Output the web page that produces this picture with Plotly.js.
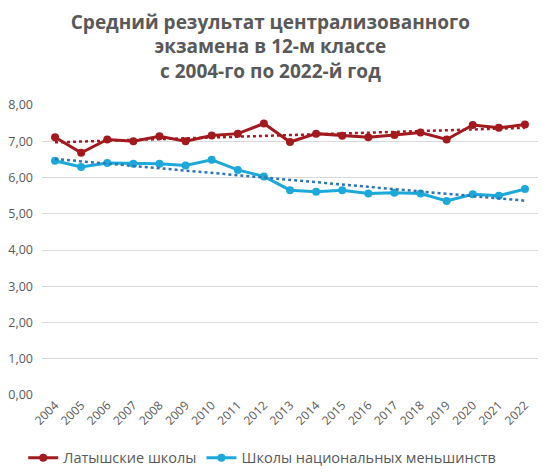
<!DOCTYPE html>
<html>
<head>
<meta charset="utf-8">
<script src="https://cdn.plot.ly/plotly-3.0.1.min.js"></script>
<style>html,body{margin:0;padding:0;background:#fff;}#chart{width:554px;height:476px;}</style>
</head>
<body>
<div id="chart"></div>
<script>
var years = ['2004','2005','2006','2007','2008','2009','2010','2011','2012','2013','2014','2015','2016','2017','2018','2019','2020','2021','2022'];
var latvianSchools = [7.11,6.68,7.05,7.00,7.14,7.00,7.16,7.21,7.49,6.98,7.21,7.15,7.11,7.17,7.24,7.05,7.45,7.37,7.46];
var minoritySchools = [6.46,6.29,6.40,6.38,6.38,6.33,6.49,6.21,6.03,5.65,5.61,5.65,5.56,5.58,5.56,5.35,5.54,5.50,5.68];
var trendYears = ['2004','2022'];
var latvianTrend = [6.97,7.37];
var minorityTrend = [6.51,5.36];
var yTicks = [0,1,2,3,4,5,6,7,8];

var blue = '#1CA9DA';
var redc = '#A31A1E';
var grey = '#595959';

var traces = [
  {x: years, y: latvianSchools, type: 'scatter', mode: 'lines+markers', name: 'Латышские школы',
   line: {color: redc, width: 3}, marker: {color: redc, size: 8}},
  {x: years, y: minoritySchools, type: 'scatter', mode: 'lines+markers', name: 'Школы национальных меньшинств',
   line: {color: blue, width: 3}, marker: {color: blue, size: 8}},
  {x: trendYears, y: latvianTrend, type: 'scatter', mode: 'lines', showlegend: false, hoverinfo: 'skip',
   line: {color: redc, width: 2.5, dash: 'dot'}},
  {x: trendYears, y: minorityTrend, type: 'scatter', mode: 'lines', showlegend: false, hoverinfo: 'skip',
   line: {color: '#2E75B6', width: 2.5, dash: 'dot'}}
];

var layout = {
  width: 554, height: 476,
  margin: {l: 42, r: 16, t: 105, b: 81},
  paper_bgcolor: '#fff', plot_bgcolor: '#fff',
  separators: ', ',
  font: {family: 'Open Sans, Noto Sans, sans-serif', color: grey, size: 12},
  title: {text: 'Средний результат централизованного<br>экзамена в 12-м классе<br>с 2004-го по 2022-й год',
          x: 0.488, xanchor: 'center', y: 0.94, yanchor: 'top',
          font: {family: 'Open Sans, sans-serif', size: 19, color: grey, weight: 'bold'}},
  xaxis: {type: 'category', range: [-0.5, 18.5], showgrid: false, zeroline: false, showline: false, automargin: false,
          tickangle: -45, ticks: '', tickfont: {size: 12, color: grey}, fixedrange: true},
  yaxis: {range: [0, 8], tickvals: yTicks, tickformat: '.2f', showgrid: true, gridcolor: '#D9D9D9', gridwidth: 1, automargin: false,
          zeroline: false, showline: false, ticks: '', ticklabelstandoff: 8, tickfont: {size: 12.5, color: grey}, fixedrange: true},
  legend: {orientation: 'h', x: 0.444, xanchor: 'center', yref: 'container', y: 0.038, yanchor: 'middle',
           font: {size: 14.5, color: grey}, itemwidth: 30},
  showlegend: true
};

Plotly.newPlot('chart', traces, layout, {displayModeBar: false, staticPlot: true});
</script>
</body>
</html>
